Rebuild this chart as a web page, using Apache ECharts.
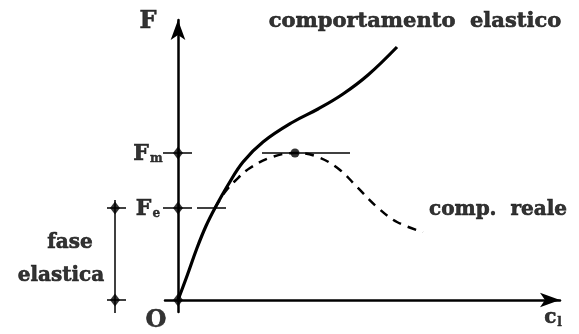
<!DOCTYPE html>
<html lang="it">
<head>
    <meta charset="UTF-8">
    <title>comportamento elastico</title>
    <script src="https://cdn.jsdelivr.net/npm/echarts@6/dist/echarts.min.js"></script>
    <style>
        html, body { margin: 0; padding: 0; background: #fff; }
        #chart { width: 579px; height: 334px; }
    </style>
</head>
<body>
<div id="chart"></div>
<script type="text/javascript">
    // curva elastica (continua) e comportamento reale (tratteggiata)
    var solidCurve = [[0, 0], [9, 24], [19, 52], [28, 74], [37, 92], [50, 115], [65, 138], [85, 158],
        [115, 178], [140, 191], [165, 206], [190, 225], [219, 253]];
    var dashedCurve = [[37, 92], [47, 108], [57, 119], [72, 132], [94, 143], [117, 147],
        [140, 143], [162, 130], [179, 113], [199, 93], [219, 78], [245, 68]];

    var Fm = 147;
    var Fe = 92;
    var peak = [[117, 147]];

    // segmenti sottili
    var feLine = [[19, Fe], [48, Fe]];
    var peakLine = [[84, Fm], [172, Fm]];
    var fmTick = [[-15, Fm], [14, Fm]];
    var feTick = [[-15, Fe], [14, Fe]];
    var bracket = [[-63, -13], [-63, 100]];
    var bracketTop = [[-71, Fe], [-52, Fe]];
    var bracketBottom = [[-71, 0], [-52, 0]];

    var diamonds = [[0, Fm], [0, Fe], [0, 0], [-63, Fe], [-63, 0]];

    var labels = [
        [237, 278, 'comportamento  elastico', 21],
        [320, 90, 'comp.  reale', 20],
        [-108, 57, 'fase', 20],
        [-117, 24, 'elastica', 20],
        [-30, 278, 'F', 24],
        [-30, 146, 'F{s|m}', 22],
        [-30, 91, 'F{s|e}', 22],
        [-22, -21, 'O', 24],
        [375, -18, 'c{s|l}', 20]
    ];

    var font = 'DejaVu Serif';

    function segment(data, width) {
        return {
            type: 'line', xAxisIndex: 1, yAxisIndex: 1,
            data: data,
            symbol: 'none',
            silent: true,
            lineStyle: { color: '#000', width: width || 1.5 }
        };
    }

    var hidden = {
        splitLine: { show: false }, axisTick: { show: false }, axisLabel: { show: false },
        axisLine: { show: false }
    };

    var chart = echarts.init(document.getElementById('chart'));
    chart.setOption({
        animation: false,
        grid: [
            { left: 165, right: 19, top: 20, bottom: 22 },
            // griglia di appoggio con la stessa scala, estesa a tutta la figura
            { left: 0, right: 19, top: 20, bottom: 0 }
        ],
        xAxis: [{
            type: 'value', min: -13, max: 382,
            splitLine: { show: false }, axisTick: { show: false }, axisLabel: { show: false },
            axisLine: {
                show: true, onZero: true,
                symbol: ['none', 'arrow'], symbolSize: [11, 20],
                lineStyle: { color: '#000', width: 2.5 }
            }
        }, Object.assign({ type: 'value', gridIndex: 1, min: -178, max: 382 }, hidden)],
        yAxis: [{
            type: 'value', min: -12, max: 280,
            splitLine: { show: false }, axisTick: { show: false }, axisLabel: { show: false },
            axisLine: {
                show: true, onZero: true,
                symbol: ['none', 'arrow'], symbolSize: [11, 20],
                lineStyle: { color: '#000', width: 2.5 }
            }
        }, Object.assign({ type: 'value', gridIndex: 1, min: -34, max: 280 }, hidden)],
        series: [
            {
                type: 'line', xAxisIndex: 1, yAxisIndex: 1,
                data: solidCurve, smooth: 0.4, symbol: 'none',
                lineStyle: { color: '#000', width: 3.2 }
            },
            {
                type: 'line', xAxisIndex: 1, yAxisIndex: 1,
                data: dashedCurve, smooth: 0.4, symbol: 'none',
                lineStyle: { color: '#000', width: 2.5, type: [9, 7] }
            },
            segment(feLine),
            segment(peakLine),
            segment(fmTick),
            segment(feTick),
            segment(bracket),
            segment(bracketTop),
            segment(bracketBottom),
            {
                type: 'scatter', xAxisIndex: 1, yAxisIndex: 1,
                data: diamonds, symbol: 'diamond', symbolSize: [10, 13],
                itemStyle: { color: '#000' }
            },
            {
                type: 'scatter', xAxisIndex: 1, yAxisIndex: 1,
                data: peak, symbol: 'circle', symbolSize: 9,
                itemStyle: { color: '#000' }
            },
            {
                type: 'scatter', xAxisIndex: 1, yAxisIndex: 1,
                symbolSize: 0, silent: true,
                data: labels.map(function (d) {
                    return { value: [d[0], d[1]], name: d[2], label: { fontSize: d[3] } };
                }),
                label: {
                    show: true, position: 'inside',
                    formatter: function (p) { return p.name; },
                    color: '#000', fontFamily: font, fontWeight: 'bold', fontSize: 20,
                    textBorderColor: '#000', textBorderWidth: 0.6,
                    align: 'center', verticalAlign: 'middle',
                    rich: {
                        s: { fontFamily: font, fontWeight: 'bold', fontSize: 12, color: '#000',
                             textBorderColor: '#000', textBorderWidth: 0.4,
                             verticalAlign: 'bottom', padding: [9, 0, 0, 1] }
                    }
                }
            }
        ]
    });
</script>
</body>
</html>
